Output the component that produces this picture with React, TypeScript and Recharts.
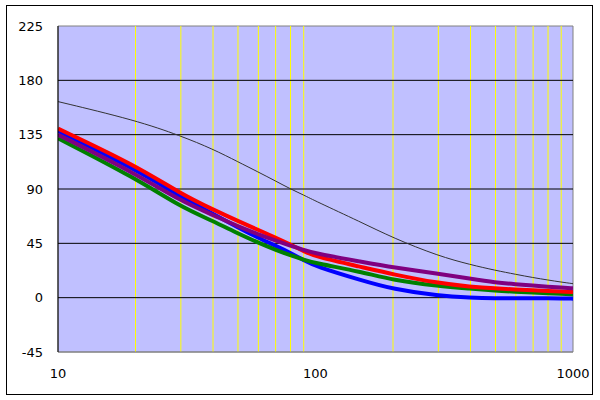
import { LineChart, Line, XAxis, YAxis, ReferenceArea, ReferenceLine } from "recharts";

const freqs = [10, 20, 30, 40, 50, 60, 70, 80, 90, 100, 150, 200, 300, 400, 500, 600, 700, 800, 900, 1000];
const redVals = [140, 109.5, 86, 73, 63.5, 56, 49.8, 44, 38.5, 34, 25.5, 19.3, 12, 9.1, 7.6, 6.8, 6.1, 5.5, 5.0, 4.6];
const blueVals = [138, 106.3, 83.5, 69.5, 58, 49.5, 43, 37, 31, 26, 14.5, 7, 1.5, 0, -0.5, -0.5, -0.5, -0.5, -0.6, -0.8];
const purpleVals = [135, 102.8, 80, 68.5, 59, 52.5, 47.3, 43, 39.6, 36.5, 29.8, 25, 19.8, 15.7, 12.6, 11, 10, 9.1, 8.4, 7.7];
const greenVals = [132, 99, 75, 63.5, 53, 45.5, 39.5, 35, 31.5, 28.5, 21.5, 14.5, 9.6, 7.5, 5.8, 4.9, 4.2, 3.6, 3.2, 2.7];
const blackVals = [162.4, 147, 134, 123, 112.5, 104, 96.6, 90, 85, 80, 62.6, 49.5, 34.5, 27.3, 22.6, 19.3, 16.6, 14.6, 12.9, 11.6];

const xTicks = [10, 100, 1000];
const minorX = [20, 30, 40, 50, 60, 70, 80, 90, 200, 300, 400, 500, 600, 700, 800, 900];
const yTicks = [-45, 0, 45, 90, 135, 180, 225];
const gridY = [0, 45, 90, 135, 180];

const data = freqs.map((f, i) => ({
  f,
  red: redVals[i],
  blue: blueVals[i],
  purple: purpleVals[i],
  green: greenVals[i],
  black: blackVals[i],
}));

export default function App() {
  return (
    <div style={{ position: "absolute", left: 0, top: 0, width: 600, height: 400, background: "#fff" }}>
      <div
        style={{
          position: "absolute",
          left: 6,
          top: 5,
          width: 587,
          height: 390,
          border: "1px solid #000",
          boxSizing: "border-box",
        }}
      />
      <div style={{ position: "absolute", left: 0, top: 0 }}>
        <LineChart
          width={600}
          height={400}
          data={data}
          margin={{ top: 26, right: 27, left: 0, bottom: 0 }}
          style={{ fontFamily: "DejaVu Sans" }}
        >
          <ReferenceArea x1={10} x2={1000} y1={-45} y2={225} fill="#C0C0FF" fillOpacity={1} stroke="#808080" />
          {minorX.map((v) => (
            <ReferenceLine key={"x" + v} x={v} stroke="#FFFF00" strokeWidth={1} />
          ))}
          {gridY.map((v) => (
            <ReferenceLine key={"y" + v} y={v} stroke="#000" strokeWidth={1} />
          ))}
          <XAxis
            dataKey="f"
            type="number"
            scale="log"
            domain={[10, 1000]}
            ticks={xTicks}
            allowDataOverflow
            height={48}
            axisLine={{ stroke: "#808080" }}
            tickLine={false}
            tickSize={0}
            tickMargin={17}
            tick={{ fill: "#000", fontSize: 13 }}
          />
          <YAxis
            type="number"
            domain={[-45, 225]}
            ticks={yTicks}
            allowDataOverflow
            width={58}
            axisLine={{ stroke: "#000" }}
            tickLine={false}
            tickSize={0}
            tickMargin={15}
            tick={{ fill: "#000", fontSize: 13 }}
          />
          <Line type="basis" dataKey="black" stroke="#333333" strokeWidth={1} dot={false} isAnimationActive={false} />
          <Line type="basis" dataKey="blue" stroke="#0000FF" strokeWidth={4} dot={false} isAnimationActive={false} />
          <Line type="basis" dataKey="green" stroke="#008000" strokeWidth={4} dot={false} isAnimationActive={false} />
          <Line type="basis" dataKey="red" stroke="#FF0000" strokeWidth={4} dot={false} isAnimationActive={false} />
          <Line type="basis" dataKey="purple" stroke="#800080" strokeWidth={4} dot={false} isAnimationActive={false} />
        </LineChart>
      </div>
    </div>
  );
}
